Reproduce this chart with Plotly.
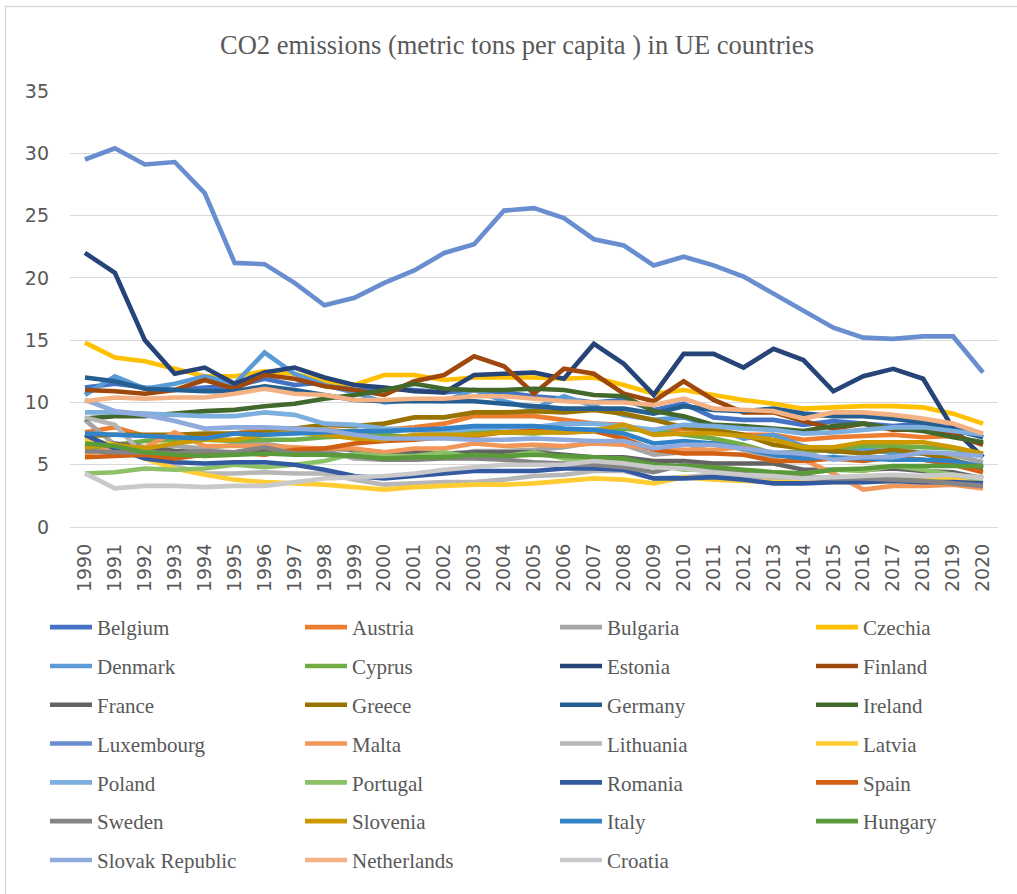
import plotly.graph_objects as go

years = list(range(1990, 2021))

belgium = [11.2, 11.5, 11.2, 11.0, 11.2, 11.3, 11.9, 11.4, 11.6, 11.0, 11.1, 11.0, 10.8, 11.0, 10.8, 10.5, 10.3, 10.0, 10.2, 9.4, 9.9, 8.8, 8.6, 8.6, 8.2, 8.5, 8.3, 8.1, 8.3, 8.1, 7.2]
austria = [7.6, 8.0, 7.3, 7.2, 7.3, 7.5, 7.9, 7.9, 7.8, 7.6, 7.8, 8.0, 8.3, 8.9, 8.9, 8.9, 8.6, 8.3, 8.2, 7.5, 7.9, 7.7, 7.4, 7.4, 7.0, 7.2, 7.3, 7.4, 7.2, 7.3, 6.7]
bulgaria = [8.6, 6.6, 6.3, 6.5, 6.3, 6.6, 6.7, 6.3, 6.1, 5.5, 5.4, 5.8, 5.6, 6.1, 6.1, 6.2, 6.4, 6.8, 6.6, 5.8, 6.0, 6.8, 6.2, 5.6, 5.9, 6.3, 6.1, 6.4, 5.9, 5.8, 5.2]
czechia = [14.8, 13.6, 13.3, 12.7, 12.1, 12.1, 12.5, 12.3, 11.7, 11.4, 12.2, 12.2, 11.8, 12.0, 12.0, 12.0, 11.9, 12.0, 11.4, 10.7, 11.0, 10.6, 10.2, 9.9, 9.5, 9.6, 9.7, 9.7, 9.6, 9.1, 8.3]
denmark = [10.6, 12.1, 11.1, 11.5, 12.1, 11.5, 14.0, 12.3, 11.4, 10.8, 10.0, 10.2, 10.1, 11.0, 10.1, 9.5, 10.5, 9.7, 9.0, 8.6, 8.8, 8.0, 7.1, 7.4, 6.5, 6.0, 6.3, 5.9, 5.9, 5.3, 4.9]
cyprus = [6.2, 6.6, 6.9, 7.0, 7.0, 6.9, 7.0, 7.0, 7.2, 7.3, 7.4, 7.2, 7.3, 7.7, 7.6, 7.5, 7.7, 7.8, 7.9, 7.7, 7.4, 7.1, 6.6, 5.9, 6.1, 6.2, 6.5, 6.5, 6.4, 6.3, 5.8]
estonia = [22.0, 20.4, 15.0, 12.3, 12.8, 11.5, 12.4, 12.8, 12.0, 11.4, 11.2, 10.9, 10.8, 12.2, 12.3, 12.4, 11.9, 14.7, 13.1, 10.6, 13.9, 13.9, 12.8, 14.3, 13.4, 10.9, 12.1, 12.7, 11.9, 7.9, 5.6]
finland = [11.0, 10.9, 10.7, 11.0, 11.8, 11.1, 12.2, 11.9, 11.3, 11.0, 10.6, 11.7, 12.2, 13.7, 12.9, 10.7, 12.7, 12.3, 10.7, 10.1, 11.7, 10.2, 9.2, 9.2, 8.5, 7.9, 8.3, 7.8, 7.9, 7.4, 6.6]
france = [6.4, 6.7, 6.4, 6.1, 6.0, 6.0, 6.2, 6.1, 6.3, 6.2, 6.0, 6.0, 5.9, 6.0, 6.0, 6.0, 5.8, 5.6, 5.6, 5.3, 5.3, 5.1, 5.1, 5.1, 4.6, 4.6, 4.6, 4.7, 4.5, 4.4, 3.9]
greece = [7.3, 7.4, 7.4, 7.4, 7.5, 7.5, 7.6, 7.9, 8.2, 8.1, 8.3, 8.8, 8.8, 9.2, 9.2, 9.3, 9.2, 9.4, 9.1, 8.6, 8.0, 7.8, 7.4, 6.6, 6.3, 6.1, 5.9, 6.2, 5.9, 5.4, 4.7]
germany = [12.0, 11.7, 11.1, 11.0, 10.9, 10.9, 11.3, 11.0, 10.6, 10.2, 10.1, 10.1, 10.1, 10.1, 9.9, 9.7, 9.5, 9.5, 9.5, 9.1, 9.7, 9.4, 9.3, 9.5, 9.1, 8.9, 8.9, 8.7, 8.4, 7.8, 7.2]
ireland = [8.7, 8.9, 8.9, 9.1, 9.3, 9.4, 9.7, 9.9, 10.3, 10.6, 11.0, 11.5, 11.1, 11.0, 11.0, 11.1, 11.0, 10.6, 10.5, 9.3, 8.9, 8.2, 8.1, 7.9, 7.7, 8.1, 8.3, 7.9, 7.7, 7.2, 6.8]
luxembourg = [29.5, 30.4, 29.1, 29.3, 26.8, 21.2, 21.1, 19.6, 17.8, 18.4, 19.6, 20.6, 22.0, 22.7, 25.4, 25.6, 24.8, 23.1, 22.6, 21.0, 21.7, 21.0, 20.1, 18.7, 17.3, 16.0, 15.2, 15.1, 15.3, 15.3, 12.4]
malta = [5.9, 6.3, 6.4, 7.6, 6.5, 6.5, 6.5, 6.4, 6.3, 6.3, 6.0, 6.3, 6.3, 6.7, 6.5, 6.6, 6.5, 6.7, 6.6, 6.3, 6.2, 6.2, 6.4, 5.9, 5.4, 4.3, 3.0, 3.3, 3.3, 3.4, 3.1]
lithuania = [8.8, 8.2, 5.7, 4.9, 4.3, 4.3, 4.4, 4.3, 4.3, 3.8, 3.4, 3.5, 3.6, 3.6, 3.8, 4.1, 4.2, 4.5, 4.5, 3.9, 4.0, 4.2, 4.2, 3.8, 3.8, 3.9, 3.9, 4.0, 4.1, 4.1, 4.0]
latvia = [7.0, 6.6, 5.5, 4.7, 4.2, 3.8, 3.6, 3.5, 3.4, 3.2, 3.0, 3.2, 3.3, 3.4, 3.4, 3.5, 3.7, 3.9, 3.8, 3.5, 4.0, 3.8, 3.7, 3.6, 3.6, 3.6, 3.6, 3.7, 3.9, 3.8, 3.5]
poland = [9.2, 9.2, 9.1, 9.0, 8.9, 8.9, 9.2, 9.0, 8.3, 8.2, 7.9, 7.8, 7.6, 7.9, 8.0, 8.0, 8.3, 8.3, 8.1, 7.8, 8.2, 8.1, 7.9, 7.8, 7.5, 7.6, 7.8, 8.0, 8.0, 7.7, 7.4]
portugal = [4.3, 4.4, 4.7, 4.6, 4.7, 5.0, 4.8, 5.0, 5.3, 5.9, 5.7, 5.7, 6.0, 5.6, 5.7, 6.0, 5.5, 5.4, 5.2, 5.0, 4.6, 4.6, 4.5, 4.4, 4.3, 4.6, 4.5, 4.9, 4.6, 4.2, 3.8]
romania = [7.4, 6.3, 5.5, 5.2, 5.1, 5.2, 5.2, 5.0, 4.6, 4.1, 3.9, 4.1, 4.3, 4.5, 4.5, 4.5, 4.7, 4.7, 4.6, 3.9, 3.9, 4.0, 3.8, 3.5, 3.5, 3.6, 3.6, 3.7, 3.6, 3.6, 3.5]
spain = [5.6, 5.7, 5.8, 5.5, 5.8, 6.0, 5.8, 6.2, 6.3, 6.7, 6.9, 7.0, 7.2, 7.3, 7.6, 7.7, 7.6, 7.7, 7.1, 6.2, 5.9, 5.9, 5.8, 5.3, 5.3, 5.5, 5.3, 5.6, 5.4, 5.0, 4.4]
sweden = [6.1, 6.0, 6.0, 5.9, 6.1, 6.0, 6.4, 5.9, 5.9, 5.7, 5.4, 5.4, 5.5, 5.5, 5.4, 5.2, 5.1, 5.0, 4.8, 4.4, 5.0, 4.7, 4.3, 4.2, 4.0, 3.9, 3.9, 3.8, 3.7, 3.5, 3.3]
slovenia = [6.4, 6.6, 6.3, 6.7, 7.0, 7.0, 7.4, 7.6, 7.4, 7.1, 7.0, 7.4, 7.4, 7.4, 7.6, 7.6, 7.6, 7.7, 8.2, 7.4, 7.5, 7.5, 7.3, 7.0, 6.4, 6.4, 6.8, 6.8, 6.8, 6.4, 5.9]
italy = [7.5, 7.4, 7.3, 7.2, 7.1, 7.5, 7.4, 7.5, 7.6, 7.7, 7.7, 7.8, 7.9, 8.1, 8.1, 8.1, 7.9, 7.8, 7.5, 6.7, 6.9, 6.7, 6.3, 5.8, 5.5, 5.6, 5.5, 5.4, 5.4, 5.3, 4.8]
hungary = [6.7, 6.5, 6.0, 5.8, 5.7, 5.8, 5.9, 5.8, 5.8, 5.7, 5.5, 5.6, 5.6, 5.8, 5.7, 5.8, 5.7, 5.6, 5.5, 5.0, 4.9, 4.8, 4.6, 4.4, 4.3, 4.6, 4.7, 4.9, 4.9, 4.9, 4.9]
slovak_republic = [10.2, 9.3, 9.0, 8.5, 7.9, 8.0, 8.0, 7.9, 7.8, 7.4, 7.1, 7.1, 7.1, 7.0, 7.0, 7.1, 7.0, 6.9, 6.9, 6.3, 6.6, 6.6, 6.3, 6.0, 5.9, 5.4, 5.6, 5.6, 6.0, 5.9, 5.7]
netherlands = [10.1, 10.4, 10.3, 10.4, 10.4, 10.7, 11.1, 10.7, 10.6, 10.2, 10.2, 10.3, 10.3, 10.5, 10.5, 10.3, 10.1, 10.0, 10.0, 9.8, 10.3, 9.5, 9.4, 9.3, 8.7, 9.2, 9.2, 9.0, 8.7, 8.3, 7.5]
croatia = [4.3, 3.1, 3.3, 3.3, 3.2, 3.3, 3.3, 3.6, 3.9, 4.0, 4.1, 4.3, 4.6, 4.8, 5.0, 5.0, 5.0, 5.3, 5.1, 4.8, 4.7, 4.4, 4.2, 4.1, 3.9, 4.0, 4.1, 4.2, 4.1, 4.2, 3.9]

series = [
    ("Belgium", belgium, "#4472C4"),
    ("Austria", austria, "#ED7D31"),
    ("Bulgaria", bulgaria, "#A5A5A5"),
    ("Czechia", czechia, "#FFC000"),
    ("Denmark", denmark, "#5B9BD5"),
    ("Cyprus", cyprus, "#70AD47"),
    ("Estonia", estonia, "#264478"),
    ("Finland", finland, "#9E480E"),
    ("France", france, "#636363"),
    ("Greece", greece, "#997300"),
    ("Germany", germany, "#255E91"),
    ("Ireland", ireland, "#43682B"),
    ("Luxembourg", luxembourg, "#698ED0"),
    ("Malta", malta, "#F1975A"),
    ("Lithuania", lithuania, "#B7B7B7"),
    ("Latvia", latvia, "#FFCD33"),
    ("Poland", poland, "#7CAFDD"),
    ("Portugal", portugal, "#8CC168"),
    ("Romania", romania, "#335AA1"),
    ("Spain", spain, "#D26012"),
    ("Sweden", sweden, "#848484"),
    ("Slovenia", slovenia, "#CC9A00"),
    ("Italy", italy, "#3282C8"),
    ("Hungary", hungary, "#5A9A3A"),
    ("Slovak Republic", slovak_republic, "#8FAADC"),
    ("Netherlands", netherlands, "#F4B183"),
    ("Croatia", croatia, "#C9C9C9"),
]

W, H = 1017, 894
L, R, T, B = 70, 19, 91, 367
plot_w = W - L - R
plot_h = H - T - B

def px_to_paper_x(px):
    return (px - L) / plot_w

def px_to_paper_y(py):
    return (H - B - py) / plot_h

legend_names = ["legend", "legend2", "legend3", "legend4"]

fig = go.Figure()
for i, (name, vals, color) in enumerate(series):
    fig.add_trace(go.Scatter(
        x=years, y=vals, name=name, mode="lines",
        line=dict(color=color, width=4.6, shape="linear"),
        legend=legend_names[i % 4], legendgroup=name,
    ))

grey_text = "#595959"
legend_font = dict(family="Liberation Serif", size=21, color=grey_text)
col_px = [45, 300, 555, 811]
legend_top = px_to_paper_y(607)

legend_cfg = {}
for k, lname in enumerate(legend_names):
    legend_cfg[lname] = dict(
        x=px_to_paper_x(col_px[k]), y=legend_top,
        xanchor="left", yanchor="top",
        orientation="v", font=legend_font,
        bgcolor="rgba(0,0,0,0)", borderwidth=0,
        tracegroupgap=8.5, itemwidth=42,
    )

fig.update_layout(
    width=W, height=H, autosize=False,
    margin=dict(l=L, r=R, t=T, b=B),
    paper_bgcolor="white", plot_bgcolor="white",
    title=dict(
        text="CO2 emissions (metric tons per capita ) in UE countries",
        font=dict(family="Liberation Serif", size=26.5, color=grey_text),
        x=px_to_paper_x(517), xref="paper", xanchor="center",
        y=1 - 45 / H, yref="container", yanchor="middle",
    ),
    xaxis=dict(
        range=[1989.5, 2020.5], tickmode="array", tickvals=years,
        ticktext=[str(y) for y in years], tickangle=-90,
        tickfont=dict(family="DejaVu Sans", size=19, color=grey_text),
        showgrid=False, showline=True, linecolor="#D9D9D9", linewidth=1.3,
        ticks="", zeroline=False, ticklabelstandoff=8,
    ),
    yaxis=dict(
        range=[0, 35], tickmode="array", tickvals=[0, 5, 10, 15, 20, 25, 30, 35],
        tickfont=dict(family="DejaVu Sans", size=19, color=grey_text),
        showgrid=True, gridcolor="#D9D9D9", gridwidth=1.3,
        zeroline=False, showline=False, ticks="", ticklabelstandoff=20,
    ),
    shapes=[dict(
        type="rect", xref="paper", yref="paper",
        x0=px_to_paper_x(5.5), x1=px_to_paper_x(1030),
        y0=px_to_paper_y(905), y1=px_to_paper_y(6.5),
        line=dict(color="#D9D9D9", width=1.3), fillcolor="rgba(0,0,0,0)", layer="below",
    )],
    **legend_cfg,
)

fig.write_html("out.html")
